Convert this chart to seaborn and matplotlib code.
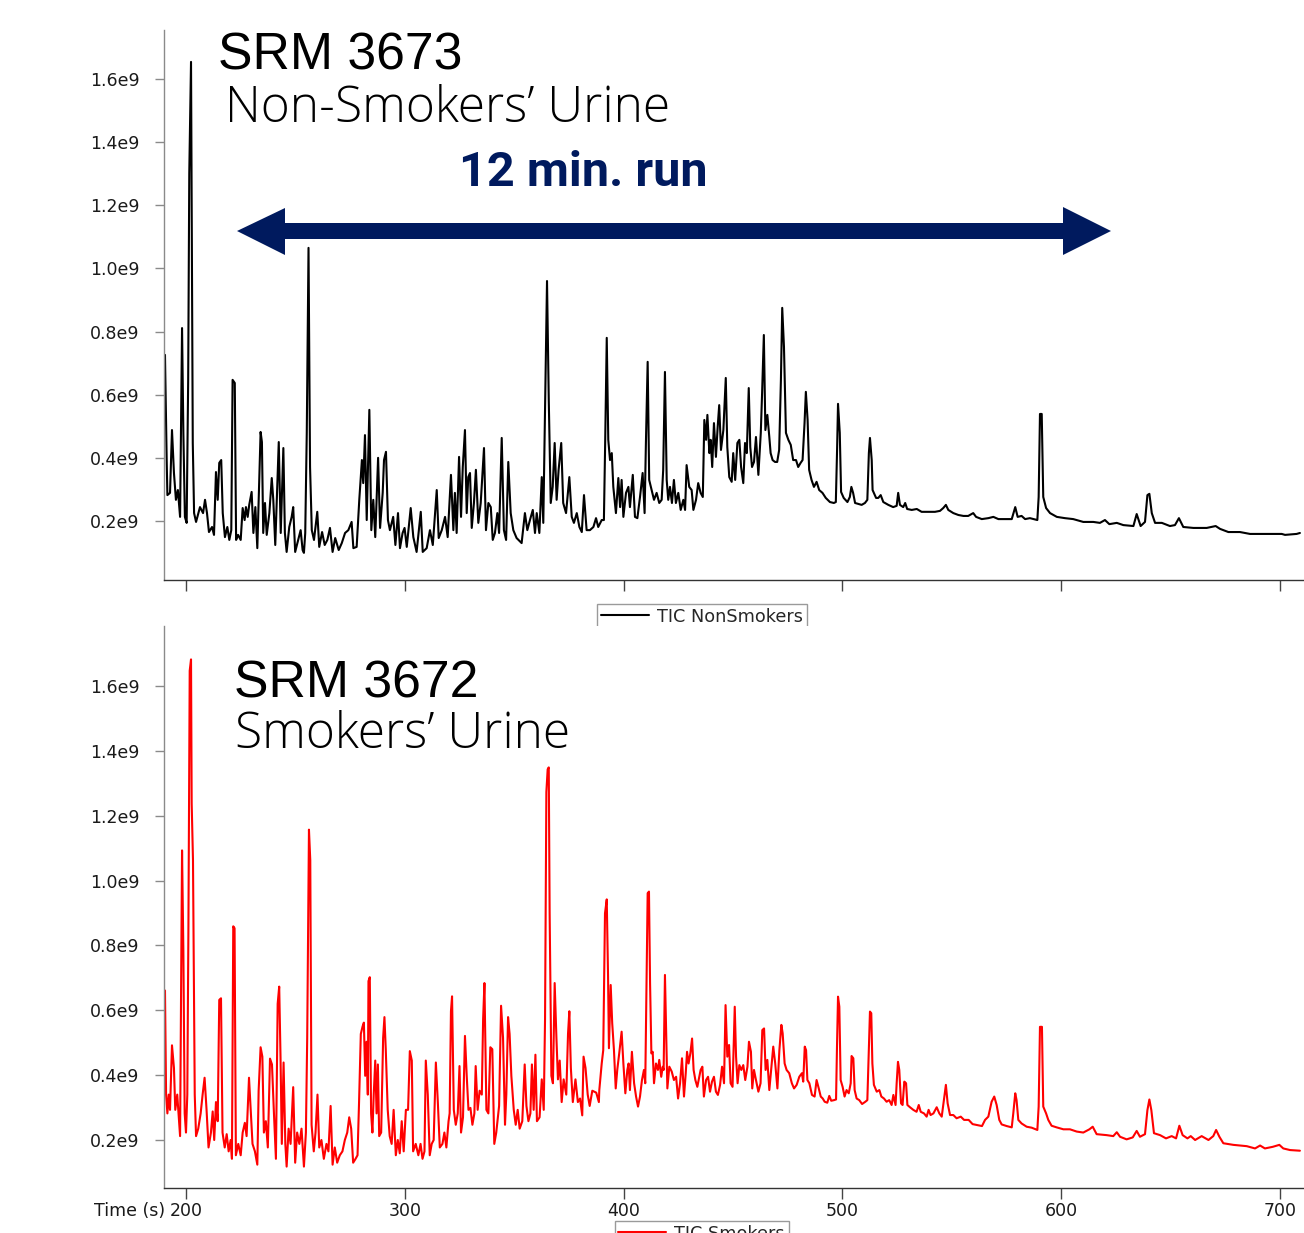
import matplotlib
matplotlib.use("Agg")
import matplotlib.pyplot as plt
import pandas as pd
import seaborn as sns
from matplotlib.patches import Polygon
from matplotlib.ticker import FuncFormatter

# ---------------- data ----------------
# Time in seconds, total ion current in units of 1e9
nonsmokers_time = [
    190.4, 191.2, 191.5, 192.7, 193.6, 194.5, 195.4, 196.3, 197.3, 198.2,
    198.8, 199.5, 200.3, 201.0, 201.5, 202.3, 203.1, 203.7, 204.6, 206.4,
    207.8, 208.7, 209.6, 210.5, 211.9, 212.8, 213.7, 214.5, 215.2, 216.1,
    216.8, 217.8, 218.9, 219.8, 220.7, 221.3, 222.3, 222.9, 223.8, 225.0,
    225.9, 226.8, 227.4, 228.2, 228.9, 230.0, 230.8, 231.7, 232.6, 234.1,
    234.7, 235.3, 236.1, 236.9, 238.1, 239.2, 239.9, 240.8, 242.4, 243.3,
    244.5, 245.2, 246.0, 247.2, 248.3, 249.0, 249.9, 251.3, 252.4, 253.3,
    253.9, 254.5, 255.2, 256.0, 256.7, 257.5, 258.5, 260.0, 260.9, 262.2,
    263.4, 264.6, 265.8, 267.0, 268.2, 269.8, 271.2, 272.7, 274.2, 275.7,
    276.5, 278.0, 279.2, 280.4, 281.0, 281.8, 282.6, 283.8, 284.7, 285.6,
    286.5, 287.8, 288.7, 289.9, 290.5, 291.4, 292.3, 293.2, 294.7, 295.7,
    296.9, 297.8, 299.0, 299.9, 300.9, 302.7, 303.9, 305.4, 307.3, 308.2,
    310.0, 311.5, 312.8, 314.6, 315.5, 316.9, 318.4, 319.6, 321.1, 322.2,
    322.9, 323.7, 324.8, 325.7, 326.5, 327.5, 328.3, 329.0, 329.8, 330.6,
    331.6, 332.5, 333.6, 334.7, 336.2, 337.1, 338.2, 339.3, 340.2, 341.2,
    342.3, 343.1, 344.3, 345.3, 346.3, 347.3, 348.4, 349.6, 351.1, 353.4,
    354.9, 356.0, 357.2, 358.5, 359.5, 360.3, 361.5, 362.6, 363.3, 364.1,
    365.0, 365.8, 366.7, 367.6, 368.5, 369.4, 370.3, 371.5, 372.4, 373.7,
    375.2, 376.3, 377.3, 378.6, 379.8, 380.9, 381.9, 383.1, 384.6, 386.2,
    387.4, 388.4, 390.0, 391.0, 391.6, 392.3, 393.0, 393.8, 394.6, 395.3,
    396.5, 397.6, 398.4, 399.1, 399.9, 401.1, 402.2, 402.9, 404.2, 405.2,
    406.3, 407.5, 408.7, 409.6, 410.2, 411.0, 411.7, 412.8, 413.9, 415.1,
    416.3, 417.4, 418.1, 418.9, 419.7, 420.4, 421.2, 422.1, 423.0, 423.9,
    425.0, 426.1, 427.3, 428.1, 428.8, 430.0, 431.1, 431.9, 433.1, 434.1,
    435.2, 436.2, 436.9, 437.7, 438.3, 439.2, 439.8, 440.5, 441.3, 442.2,
    443.0, 443.7, 444.5, 445.6, 446.7, 447.4, 448.3, 449.4, 450.1, 451.0,
    452.0, 452.9, 453.7, 454.7, 455.5, 456.3, 457.2, 457.9, 458.7, 459.6,
    460.5, 461.6, 462.7, 463.3, 464.1, 464.8, 465.7, 466.6, 467.2, 468.1,
    469.2, 470.2, 471.1, 471.9, 472.5, 473.3, 474.2, 475.3, 476.4, 477.5,
    478.8, 479.8, 480.9, 481.8, 482.7, 483.3, 484.1, 484.8, 485.9, 487.0,
    488.2, 489.4, 490.9, 492.4, 494.3, 496.1, 497.0, 497.6, 498.0, 498.8,
    499.4, 500.6, 502.3, 503.4, 504.1, 504.9, 505.8, 507.3, 508.8, 510.3,
    511.4, 512.1, 512.6, 513.4, 513.8, 515.4, 516.4, 517.5, 518.7, 521.0,
    523.2, 524.8, 525.5, 526.3, 527.8, 528.7, 529.6, 531.7, 534.0, 536.2,
    539.3, 542.3, 544.6, 546.1, 547.3, 548.4, 550.7, 553.0, 555.3, 557.5,
    559.8, 561.1, 563.7, 566.7, 569.0, 571.3, 572.0, 577.4, 579.0, 580.1,
    581.9, 583.5, 585.7, 589.1, 589.7, 590.3, 591.1, 591.8, 593.1, 594.9,
    598.0, 601.7, 605.5, 610.1, 614.7, 617.7, 620.0, 622.0, 625.4, 628.4,
    633.0, 634.5, 636.3, 638.3, 639.4, 640.3, 641.4, 642.9, 646.0, 649.7,
    652.0, 653.8, 655.8, 660.4, 666.5, 670.6, 672.6, 676.4, 681.7, 686.3,
    693.9, 700.8, 702.3, 707.6, 709.1,
]
nonsmokers_tic = [
    0.726, 0.384, 0.282, 0.289, 0.488, 0.352, 0.267, 0.298, 0.213, 0.811,
    0.479, 0.213, 0.194, 0.647, 1.302, 1.654, 0.447, 0.225, 0.197, 0.244,
    0.225, 0.267, 0.225, 0.165, 0.181, 0.156, 0.355, 0.267, 0.384, 0.393,
    0.225, 0.149, 0.181, 0.140, 0.171, 0.647, 0.637, 0.140, 0.156, 0.140,
    0.241, 0.203, 0.244, 0.213, 0.251, 0.292, 0.162, 0.244, 0.114, 0.482,
    0.450, 0.162, 0.257, 0.156, 0.225, 0.336, 0.267, 0.124, 0.450, 0.162,
    0.431, 0.162, 0.102, 0.181, 0.213, 0.244, 0.102, 0.140, 0.171, 0.108,
    0.099, 0.162, 0.479, 1.065, 0.371, 0.171, 0.140, 0.229, 0.118, 0.165,
    0.124, 0.140, 0.178, 0.102, 0.146, 0.108, 0.130, 0.162, 0.171, 0.197,
    0.114, 0.118, 0.267, 0.393, 0.320, 0.472, 0.203, 0.552, 0.171, 0.267,
    0.149, 0.400, 0.178, 0.289, 0.393, 0.419, 0.203, 0.171, 0.213, 0.124,
    0.225, 0.114, 0.162, 0.178, 0.118, 0.241, 0.149, 0.102, 0.229, 0.102,
    0.114, 0.171, 0.124, 0.298, 0.146, 0.171, 0.213, 0.149, 0.346, 0.171,
    0.289, 0.162, 0.403, 0.213, 0.371, 0.488, 0.225, 0.339, 0.352, 0.178,
    0.257, 0.362, 0.194, 0.257, 0.431, 0.171, 0.257, 0.244, 0.140, 0.162,
    0.225, 0.162, 0.463, 0.171, 0.140, 0.387, 0.225, 0.171, 0.146, 0.130,
    0.225, 0.171, 0.203, 0.235, 0.162, 0.225, 0.162, 0.339, 0.194, 0.561,
    0.960, 0.583, 0.257, 0.308, 0.447, 0.267, 0.362, 0.447, 0.257, 0.225,
    0.339, 0.213, 0.194, 0.225, 0.181, 0.165, 0.282, 0.171, 0.171, 0.181,
    0.209, 0.181, 0.203, 0.203, 0.457, 0.780, 0.457, 0.393, 0.415, 0.308,
    0.225, 0.336, 0.244, 0.330, 0.213, 0.289, 0.308, 0.244, 0.346, 0.213,
    0.209, 0.276, 0.352, 0.225, 0.447, 0.704, 0.330, 0.298, 0.267, 0.289,
    0.257, 0.267, 0.362, 0.672, 0.330, 0.267, 0.308, 0.257, 0.330, 0.257,
    0.289, 0.235, 0.267, 0.235, 0.377, 0.308, 0.298, 0.235, 0.267, 0.320,
    0.289, 0.276, 0.520, 0.457, 0.536, 0.415, 0.457, 0.371, 0.510, 0.403,
    0.498, 0.567, 0.425, 0.488, 0.653, 0.434, 0.339, 0.324, 0.415, 0.330,
    0.447, 0.457, 0.371, 0.320, 0.447, 0.415, 0.621, 0.434, 0.371, 0.387,
    0.466, 0.346, 0.479, 0.605, 0.789, 0.488, 0.536, 0.466, 0.415, 0.393,
    0.387, 0.387, 0.425, 0.647, 0.875, 0.751, 0.479, 0.457, 0.441, 0.393,
    0.393, 0.371, 0.384, 0.393, 0.510, 0.609, 0.520, 0.362, 0.330, 0.308,
    0.324, 0.298, 0.289, 0.273, 0.260, 0.257, 0.260, 0.434, 0.571, 0.479,
    0.292, 0.273, 0.260, 0.276, 0.308, 0.289, 0.257, 0.254, 0.251, 0.257,
    0.267, 0.415, 0.463, 0.393, 0.298, 0.273, 0.273, 0.282, 0.260, 0.251,
    0.244, 0.248, 0.289, 0.251, 0.244, 0.257, 0.238, 0.235, 0.238, 0.229,
    0.229, 0.229, 0.232, 0.241, 0.251, 0.235, 0.225, 0.219, 0.216, 0.216,
    0.225, 0.213, 0.206, 0.209, 0.213, 0.206, 0.206, 0.206, 0.244, 0.213,
    0.216, 0.206, 0.209, 0.203, 0.276, 0.539, 0.539, 0.276, 0.241, 0.225,
    0.213, 0.209, 0.206, 0.197, 0.197, 0.194, 0.203, 0.190, 0.194, 0.187,
    0.184, 0.222, 0.184, 0.197, 0.282, 0.286, 0.225, 0.194, 0.194, 0.184,
    0.187, 0.209, 0.181, 0.178, 0.178, 0.184, 0.175, 0.165, 0.165, 0.159,
    0.159, 0.159, 0.156, 0.159, 0.162,
]

smokers_time = [
    190.4, 190.9, 191.5, 192.1, 192.7, 193.6, 194.5, 195.1, 196.0, 196.7,
    197.3, 198.2, 198.8, 199.4, 200.0, 200.6, 201.1, 201.7, 202.3, 202.6,
    203.2, 204.0, 204.6, 205.6, 206.7, 207.6, 208.5, 209.4, 210.3, 211.4,
    212.2, 212.9, 213.7, 214.5, 215.2, 216.0, 216.7, 217.7, 218.6, 219.5,
    220.4, 221.0, 221.6, 222.2, 222.8, 223.9, 225.0, 225.9, 226.9, 227.7,
    228.8, 229.5, 230.4, 231.5, 232.6, 233.2, 234.1, 234.9, 235.6, 236.5,
    237.4, 238.4, 239.3, 240.2, 241.1, 241.9, 242.6, 243.2, 243.8, 244.6,
    245.4, 246.0, 246.9, 247.8, 249.0, 249.9, 250.8, 251.8, 252.8, 253.9,
    254.8, 255.4, 256.2, 256.8, 257.4, 258.4, 259.2, 260.1, 260.9, 261.9,
    263.0, 264.2, 265.1, 266.1, 267.0, 268.0, 269.1, 270.3, 271.5, 272.6,
    273.7, 274.6, 275.5, 276.4, 277.5, 278.4, 279.1, 279.9, 280.7, 281.3,
    281.9, 282.5, 283.1, 283.4, 284.0, 284.6, 285.2, 285.8, 286.5, 287.1,
    287.7, 288.3, 289.2, 290.1, 290.7, 291.3, 292.2, 293.1, 294.0, 294.9,
    295.9, 296.8, 297.7, 298.6, 299.5, 300.5, 301.5, 302.3, 303.2, 303.8,
    305.0, 306.2, 307.2, 308.1, 309.0, 309.6, 310.5, 311.4, 312.3, 313.2,
    314.2, 315.1, 316.0, 317.2, 318.1, 319.0, 320.0, 320.5, 321.1, 321.6,
    322.4, 323.3, 324.2, 325.0, 325.7, 326.6, 327.5, 328.3, 329.1, 330.0,
    330.9, 331.8, 332.4, 333.3, 334.2, 335.2, 335.8, 336.4, 337.3, 338.2,
    339.1, 340.0, 340.9, 341.8, 343.1, 344.0, 344.9, 345.8, 346.4, 347.2,
    347.9, 348.7, 349.8, 350.7, 351.6, 352.5, 353.7, 354.8, 355.6, 356.5,
    357.4, 358.1, 358.9, 359.7, 360.4, 361.6, 362.6, 363.5, 364.1, 364.7,
    365.3, 365.8, 366.2, 367.0, 367.7, 368.5, 369.3, 370.0, 370.8, 371.7,
    372.6, 373.8, 374.6, 375.2, 375.9, 376.8, 378.0, 379.1, 380.1, 381.1,
    381.7, 382.6, 383.6, 384.5, 385.7, 387.5, 388.7, 388.9, 390.0, 390.7,
    391.5, 392.3, 392.9, 393.3, 394.1, 394.8, 395.6, 396.4, 397.1, 398.0,
    399.1, 399.9, 400.8, 401.7, 402.3, 402.9, 403.8, 404.8, 405.7, 406.6,
    407.5, 408.4, 409.3, 409.9, 410.5, 411.0, 411.6, 412.1, 412.7, 413.3,
    413.9, 414.8, 415.7, 416.3, 417.2, 417.9, 418.3, 418.9, 419.5, 420.0,
    420.9, 422.0, 423.0, 424.0, 424.9, 425.8, 426.7, 427.6, 428.4, 429.0,
    429.7, 430.5, 431.3, 432.0, 432.8, 433.7, 434.6, 435.2, 436.0, 436.7,
    437.7, 438.6, 439.5, 440.4, 441.3, 442.2, 443.1, 444.1, 445.0, 445.9,
    446.6, 447.4, 448.2, 448.9, 449.8, 450.8, 451.4, 452.1, 452.9, 453.8,
    454.7, 455.6, 456.6, 457.3, 458.2, 458.8, 459.6, 460.5, 461.6, 462.6,
    463.4, 464.2, 464.9, 465.7, 466.6, 467.5, 468.4, 469.3, 470.3, 471.2,
    472.1, 472.7, 473.6, 474.5, 475.7, 476.9, 477.9, 479.1, 480.3, 481.5,
    482.1, 482.8, 483.4, 484.0, 484.9, 486.1, 487.3, 488.2, 489.2, 490.1,
    491.0, 491.9, 493.1, 494.0, 494.9, 496.2, 497.1, 497.5, 498.0, 498.6,
    499.2, 500.1, 501.0, 501.9, 502.9, 503.8, 504.2, 505.0, 505.6, 506.5,
    507.7, 509.0, 510.5, 511.4, 512.0, 512.6, 513.2, 513.7, 514.4, 515.7,
    516.9, 517.8, 519.0, 520.2, 521.4, 522.5, 523.3, 524.3, 524.8, 525.4,
    526.0, 526.8, 527.5, 528.3, 529.1, 529.7, 530.9, 532.4, 533.9, 534.9,
    535.8, 537.3, 538.5, 539.4, 540.3, 541.6, 543.1, 544.3, 545.4, 546.6,
    547.3, 548.1, 549.2, 550.7, 552.2, 554.1, 555.6, 557.7, 559.5, 561.7,
    563.8, 565.2, 566.7, 568.2, 569.4, 570.5, 571.7, 572.8, 575.1, 577.4,
    578.1, 579.0, 579.6, 580.4, 581.9, 584.2, 586.5, 589.1, 589.7, 590.3,
    591.2, 591.8, 593.1, 594.1, 595.6, 597.9, 601.0, 604.0, 607.1, 610.1,
    612.9, 614.4, 616.2, 620.8, 623.8, 625.4, 626.9, 629.9, 632.7, 634.5,
    636.0, 638.3, 639.4, 640.3, 641.2, 642.4, 645.2, 647.9, 650.5, 652.5,
    654.0, 655.5, 657.7, 659.2, 661.2, 664.2, 667.3, 669.5, 670.8, 672.3,
    674.1, 678.7, 684.8, 688.6, 690.9, 693.1, 696.7, 699.7, 701.5, 704.6,
    709.1,
]
smokers_tic = [
    0.661, 0.340, 0.282, 0.340, 0.293, 0.492, 0.422, 0.293, 0.340, 0.270,
    0.212, 1.093, 0.783, 0.282, 0.223, 0.340, 0.842, 1.647, 1.682, 1.238,
    1.063, 0.340, 0.212, 0.235, 0.282, 0.340, 0.392, 0.293, 0.177, 0.223,
    0.288, 0.200, 0.317, 0.258, 0.632, 0.637, 0.223, 0.177, 0.218, 0.165,
    0.200, 0.142, 0.859, 0.853, 0.153, 0.188, 0.153, 0.223, 0.253, 0.212,
    0.392, 0.305, 0.188, 0.165, 0.124, 0.352, 0.486, 0.457, 0.223, 0.258,
    0.177, 0.451, 0.433, 0.282, 0.142, 0.620, 0.673, 0.457, 0.188, 0.439,
    0.188, 0.118, 0.235, 0.188, 0.363, 0.130, 0.223, 0.188, 0.235, 0.118,
    0.223, 0.515, 1.157, 1.063, 0.247, 0.165, 0.223, 0.340, 0.177, 0.200,
    0.142, 0.188, 0.165, 0.305, 0.124, 0.177, 0.130, 0.153, 0.165, 0.200,
    0.223, 0.270, 0.235, 0.130, 0.142, 0.153, 0.317, 0.527, 0.550, 0.562,
    0.398, 0.503, 0.340, 0.690, 0.702, 0.282, 0.223, 0.340, 0.445, 0.282,
    0.433, 0.212, 0.223, 0.515, 0.579, 0.480, 0.293, 0.212, 0.188, 0.293,
    0.153, 0.200, 0.159, 0.258, 0.165, 0.293, 0.293, 0.474, 0.445, 0.165,
    0.188, 0.153, 0.188, 0.142, 0.165, 0.445, 0.340, 0.153, 0.188, 0.200,
    0.439, 0.317, 0.177, 0.188, 0.223, 0.177, 0.258, 0.282, 0.597, 0.643,
    0.293, 0.247, 0.282, 0.428, 0.223, 0.270, 0.521, 0.398, 0.293, 0.299,
    0.247, 0.282, 0.428, 0.293, 0.352, 0.340, 0.573, 0.684, 0.293, 0.282,
    0.486, 0.480, 0.188, 0.223, 0.305, 0.614, 0.515, 0.247, 0.340, 0.579,
    0.527, 0.398, 0.293, 0.247, 0.293, 0.235, 0.258, 0.433, 0.305, 0.258,
    0.282, 0.433, 0.293, 0.463, 0.258, 0.270, 0.387, 0.293, 0.573, 1.273,
    1.343, 1.349, 0.900, 0.398, 0.375, 0.684, 0.515, 0.387, 0.445, 0.317,
    0.387, 0.340, 0.527, 0.597, 0.422, 0.317, 0.387, 0.317, 0.328, 0.276,
    0.457, 0.422, 0.340, 0.305, 0.352, 0.346, 0.317, 0.354, 0.436, 0.477,
    0.899, 0.942, 0.704, 0.483, 0.678, 0.560, 0.477, 0.359, 0.416, 0.467,
    0.534, 0.436, 0.344, 0.416, 0.436, 0.354, 0.472, 0.375, 0.334, 0.303,
    0.334, 0.385, 0.416, 0.375, 0.683, 0.961, 0.966, 0.683, 0.467, 0.472,
    0.375, 0.436, 0.416, 0.447, 0.395, 0.426, 0.416, 0.709, 0.519, 0.359,
    0.426, 0.411, 0.385, 0.395, 0.328, 0.375, 0.452, 0.334, 0.406, 0.472,
    0.436, 0.467, 0.513, 0.416, 0.385, 0.364, 0.395, 0.416, 0.426, 0.334,
    0.385, 0.395, 0.349, 0.380, 0.395, 0.349, 0.339, 0.370, 0.426, 0.375,
    0.616, 0.457, 0.493, 0.375, 0.364, 0.611, 0.457, 0.375, 0.431, 0.416,
    0.431, 0.385, 0.426, 0.503, 0.472, 0.359, 0.416, 0.385, 0.349, 0.375,
    0.539, 0.544, 0.416, 0.447, 0.354, 0.421, 0.488, 0.436, 0.359, 0.477,
    0.555, 0.529, 0.436, 0.416, 0.406, 0.375, 0.359, 0.370, 0.395, 0.406,
    0.380, 0.488, 0.477, 0.385, 0.375, 0.339, 0.334, 0.385, 0.359, 0.334,
    0.328, 0.318, 0.315, 0.336, 0.321, 0.323, 0.325, 0.477, 0.642, 0.611,
    0.385, 0.364, 0.334, 0.354, 0.344, 0.375, 0.459, 0.452, 0.354, 0.328,
    0.323, 0.311, 0.318, 0.323, 0.457, 0.596, 0.591, 0.436, 0.370, 0.349,
    0.354, 0.334, 0.328, 0.318, 0.323, 0.308, 0.339, 0.308, 0.375, 0.441,
    0.416, 0.313, 0.308, 0.380, 0.375, 0.308, 0.301, 0.293, 0.287, 0.308,
    0.287, 0.282, 0.272, 0.293, 0.277, 0.282, 0.301, 0.282, 0.272, 0.334,
    0.370, 0.313, 0.277, 0.277, 0.267, 0.272, 0.262, 0.262, 0.249, 0.246,
    0.243, 0.262, 0.272, 0.318, 0.334, 0.308, 0.262, 0.248, 0.243, 0.239,
    0.282, 0.344, 0.323, 0.262, 0.251, 0.241, 0.238, 0.231, 0.303, 0.549,
    0.549, 0.303, 0.282, 0.262, 0.244, 0.239, 0.233, 0.233, 0.226, 0.223,
    0.233, 0.241, 0.218, 0.215, 0.212, 0.224, 0.210, 0.202, 0.208, 0.228,
    0.210, 0.218, 0.292, 0.325, 0.292, 0.221, 0.215, 0.205, 0.212, 0.205,
    0.244, 0.215, 0.205, 0.212, 0.200, 0.212, 0.200, 0.212, 0.231, 0.210,
    0.190, 0.185, 0.181, 0.174, 0.183, 0.174, 0.179, 0.185, 0.174, 0.169,
    0.167,
]

x_ticks = [200, 300, 400, 500, 600, 700]
y_ticks = [0.2, 0.4, 0.6, 0.8, 1.0, 1.2, 1.4, 1.6]

df_top = pd.DataFrame({"time": nonsmokers_time, "tic": nonsmokers_tic})
df_bot = pd.DataFrame({"time": smokers_time, "tic": smokers_tic})

# ---------------- figure ----------------
sns.set_theme(style="white")
plt.rcParams["font.family"] = ["DejaVu Sans"]

W, H = 1304, 1233
fig = plt.figure(figsize=(W / 100, H / 100), dpi=100)


def fx(x):
    return x / W


def fy(y):
    return 1 - y / H


ax1 = fig.add_axes([fx(164), fy(580), 1140 / W, 550 / H])
ax2 = fig.add_axes([fx(164), fy(1188), 1140 / W, 562 / H])

sns.lineplot(data=df_top, x="time", y="tic", ax=ax1, color="black",
             linewidth=1.5, estimator=None, sort=False, label="TIC NonSmokers")
sns.lineplot(data=df_bot, x="time", y="tic", ax=ax2, color="#ff0000",
             linewidth=1.5, estimator=None, sort=False, label="TIC Smokers")

fmt = FuncFormatter(lambda v, p: f"{v:.1f}e9")
for ax, ylim in ((ax1, (0.0131, 1.755)), (ax2, (0.052, 1.785))):
    ax.set_xlim(189.95, 710.97)
    ax.set_ylim(*ylim)
    ax.set_xticks(x_ticks)
    ax.set_yticks(y_ticks)
    ax.yaxis.set_major_formatter(fmt)
    ax.set_xlabel("")
    ax.set_ylabel("")
    ax.grid(False)
    for s in ("top", "right"):
        ax.spines[s].set_visible(False)
    ax.spines["left"].set_color("#8a8a8a")
    ax.spines["left"].set_linewidth(1.0)
    ax.spines["bottom"].set_color("#333333")
    ax.spines["bottom"].set_linewidth(1.0)
    ax.tick_params(axis="y", direction="out", length=6.5, width=1.0,
                   color="#8a8a8a", pad=11, labelsize=12.5,
                   labelcolor="#1a1a1a", left=True)
    ax.tick_params(axis="x", direction="out", length=8, width=1.0,
                   color="#444444", pad=2, labelsize=12.5,
                   labelcolor="#1a1a1a", bottom=True)

ax1.tick_params(axis="x", labelbottom=False)

leg_kw = dict(loc="upper center", frameon=True, fancybox=False,
              edgecolor="#9a9a9a", framealpha=1, fontsize=12.7,
              handlelength=2.7, handletextpad=0.5, borderpad=0.2,
              borderaxespad=0)
leg1 = ax1.legend(bbox_to_anchor=(0.472, -0.0436), **leg_kw)
leg1.get_frame().set_linewidth(1.0)
leg2 = ax2.legend(bbox_to_anchor=(0.4715, -0.0587), **leg_kw)
leg2.get_frame().set_linewidth(1.0)

# "Time (s)" prefix next to the first tick label
fig.text(fx(165), fy(1201.5), "Time (s)", ha="right", va="top",
         fontsize=12.5, color="#1a1a1a")

# ---------------- annotations ----------------
fig.text(fx(218), fy(70), "SRM 3673", fontsize=37.3,
         family=["Liberation Sans", "DejaVu Sans"], color="black")
fig.text(fx(225), fy(122), "Non-Smokers\u2019 Urine", fontsize=35.7,
         family=["Open Sans", "DejaVu Sans"], weight="light", color="black")
fig.text(fx(234), fy(697), "SRM 3672", fontsize=37.3,
         family=["Liberation Sans", "DejaVu Sans"], color="black")
fig.text(fx(235), fy(748), "Smokers\u2019 Urine", fontsize=35.7,
         family=["Open Sans", "DejaVu Sans"], weight="light", color="black")

navy = "#001a5e"
fig.text(fx(459), fy(186), "12 min. run", fontsize=35,
         family=["Roboto", "DejaVu Sans"], weight="bold", color=navy)

arrow_px = [(237, 231), (285, 208), (285, 223), (1063, 223), (1063, 207),
            (1111, 231), (1063, 255), (1063, 239), (285, 239), (285, 255)]
arrow = Polygon([(fx(x), fy(y)) for x, y in arrow_px], closed=True,
                transform=fig.transFigure, facecolor=navy, edgecolor="none")
fig.add_artist(arrow)

fig.savefig("out.png", dpi=100)
